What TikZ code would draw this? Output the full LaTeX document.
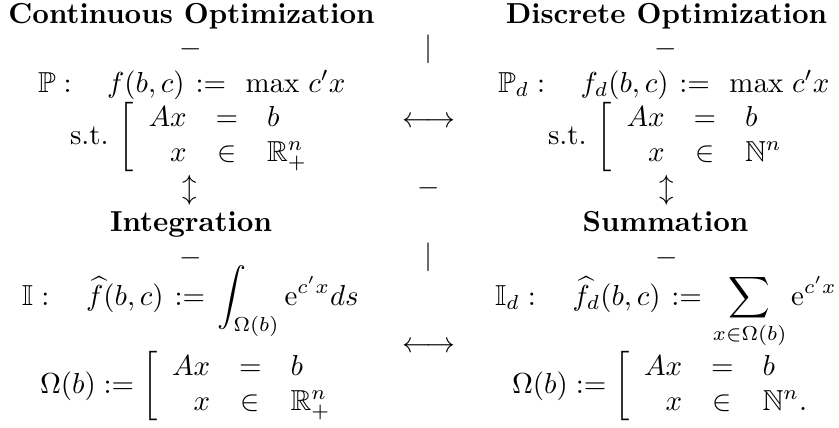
\documentclass[tikz,border=0pt]{standalone}
\usepackage{amsmath,amssymb}
\begin{document}
\begin{tikzpicture}[x=0.346pt,y=-0.346pt,
  txt/.style={inner sep=0pt,outer sep=0pt},
  hd/.style={txt,anchor=base,font=\bfseries},
  sym/.style={txt,anchor=center},
  row/.style={txt,anchor=base west},
  blk/.style={txt,anchor=west}]
\useasboundingbox (0,0) rectangle (839,427);
% left column
\node[hd] (h1) at (191.5,23) {Continuous Optimization};
\node[sym] (d1) at (191,49) {$-$};
\node[row] (p1) at (38,92) {$\mathbb{P}:\hspace{9.5pt}f(b,c)\hspace{1pt}:=\hspace{4pt}\max\hspace{1.4pt}c'x$};
\node[blk] (s1) at (70,137) {s.t.\hspace{3.5pt}$\left[\begin{array}{rcl}Ax&=&b\\x&\in&\mathbb{R}^n_+\end{array}\right.$};
\node[sym] (a1) at (190,190) {$\updownarrow$};
\node[hd] (h2) at (191,231) {Integration};
\node[sym] (d2) at (191,258) {$-$};
\node[row] (i1) at (22,305) {$\mathbb{I}:\hspace{10pt}\widehat{f}(b,c)\hspace{1pt}:=\hspace{1.5pt}\displaystyle\int_{\Omega(b)}\mathrm{e}^{c'x}ds$};
\node[blk] (o1) at (40,386) {$\Omega(b):=\left[\begin{array}{rcl}Ax&=&b\\x&\in&\mathbb{R}^n_+\end{array}\right.$};
% middle column
\node[sym] (m1) at (429,49) {$|$};
\node[sym] (m2) at (429,122) {$\longleftrightarrow$};
\node[sym] (m3) at (429,188) {$-$};
\node[sym] (m4) at (429,257) {$|$};
\node[sym] (m5) at (429,347) {$\longleftrightarrow$};
% right column
\node[hd] (h3) at (666.5,23) {Discrete Optimization};
\node[sym] (d3) at (666,49) {$-$};
\node[row] (p2) at (498,92) {$\mathbb{P}_d:\hspace{9.5pt}f_d(b,c)\hspace{1pt}:=\hspace{4pt}\max\hspace{1.4pt}c'x$};
\node[blk] (s2) at (548,137) {s.t.\hspace{3.5pt}$\left[\begin{array}{rcl}Ax&=&b\\x&\in&\mathbb{N}^n\end{array}\right.$};
\node[sym] (a2) at (667,190) {$\updownarrow$};
\node[hd] (h4) at (665.5,231) {Summation};
\node[sym] (d4) at (667,258) {$-$};
\node[row] (i2) at (495,305) {$\mathbb{I}_d:\hspace{10pt}\widehat{f}_d(b,c)\hspace{1pt}:=\hspace{1pt}\displaystyle\sum_{x\in\Omega(b)}\mathrm{e}^{c'x}$};
\node[blk] (o2) at (512,386) {$\Omega(b):=\left[\begin{array}{rcl}Ax&=&b\\x&\in&\mathbb{N}^n.\end{array}\right.$};
\end{tikzpicture}
\end{document}
